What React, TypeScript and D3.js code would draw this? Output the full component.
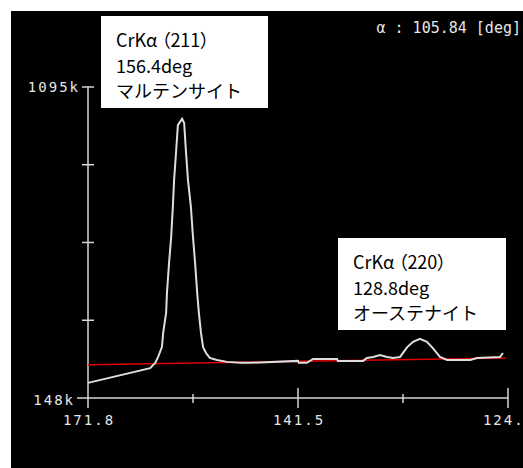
import { useRef, useEffect } from 'react';
import * as d3 from 'd3';

// detector channel (0..100) vs intensity in k counts
const channel = [
  0, 14.8, 16.0, 16.7, 17.6, 17.9, 18.6, 18.8, 19.3, 19.8, 20.2, 20.5, 21.0, 21.4,
  22.4, 22.9, 23.3, 23.8, 24.5, 25.0, 25.5, 26.0, 26.4, 26.9, 27.4, 28.1, 29.0,
  30.7, 33.1, 36.2, 38.6, 50.0, 50.2, 52.1, 53.6, 59.3, 59.5, 65.5, 66.4, 67.9,
  69.5, 71.2, 72.6, 74.3, 76.0, 77.4, 79.0, 80.7, 82.1, 83.8, 85.5, 91.0, 92.6,
  98.1, 98.8,
];
const intensity = [
  194, 239, 255, 273, 303, 346, 407, 468, 559, 638, 730, 812, 903, 979,
  998, 985, 903, 812, 730, 638, 559, 468, 407, 346, 303, 285, 270,
  264, 258, 255, 255, 261, 255, 255, 267, 267, 261, 261, 270, 273,
  279, 273, 270, 273, 303, 319, 328, 319, 300, 273, 264, 264, 270,
  273, 285,
];
const baseChannel = [0, 99.5];
const baseIntensity = [249, 270];

const xTicks = [0, 25, 50, 75, 100];
const xTickLabels = ['171.8', '', '141.5', '', '124.0'];
const yDomain = [148, 1095];
const yTickCount = 4;

const peaks = [
  { lines: ['CrKα （211）', '156.4deg', 'マルテンサイト'] },
  { lines: ['CrKα （220）', '128.8deg', 'オーステナイト'] },
];
const alphaLabel = 'α : 105.84 [deg]';

export default function App() {
  const svgRef = useRef<SVGSVGElement>(null);

  useEffect(() => {
    const svg = d3.select(svgRef.current);
    svg.selectAll('*').remove();

    const W = 523;
    const H = 468;
    const left = 88;
    const right = 508;
    const top = 87;
    const bottom = 398;
    const axisColor = '#d4d4d4';
    const numFont = 'DejaVu Sans Mono, monospace';
    const jpFont = '"Noto Sans CJK JP", sans-serif';

    svg.append('rect').attr('width', W).attr('height', H).attr('fill', '#fff');
    svg.append('rect').attr('x', 11).attr('y', 11).attr('width', W - 11).attr('height', H - 11).attr('fill', '#000');

    const x = d3.scaleLinear().domain([0, 100]).range([left, right]);
    const y = d3.scaleLinear().domain(yDomain).range([bottom, top]);

    // axes
    const g = svg.append('g').attr('stroke', axisColor).attr('stroke-width', 1.5).attr('fill', 'none');
    g.append('line').attr('x1', x(0)).attr('x2', x(0)).attr('y1', y(yDomain[1])).attr('y2', y(yDomain[0]) + 10);
    g.append('line').attr('x1', x(0) - 11).attr('x2', x(100)).attr('y1', y(yDomain[0])).attr('y2', y(yDomain[0]));

    const yTicks = d3.range(yTickCount + 1).map((i) => yDomain[0] + (i * (yDomain[1] - yDomain[0])) / yTickCount);
    yTicks.slice(1).forEach((v) => {
      g.append('line').attr('x1', x(0) - 6).attr('x2', x(0) + 6).attr('y1', y(v)).attr('y2', y(v));
    });
    xTicks.forEach((t, i) => {
      if (i === 0) return;
      const major = xTickLabels[i] !== '';
      g.append('line')
        .attr('x1', x(t)).attr('x2', x(t))
        .attr('y1', y(yDomain[0]) - (major ? 10 : 4))
        .attr('y2', y(yDomain[0]) + (major ? 10 : 5));
    });

    // tick labels
    const lab = svg.append('g').attr('fill', '#e6e6e6').attr('font-family', numFont).attr('font-size', 14).attr('letter-spacing', 2);
    lab.append('text').attr('x', 80).attr('y', y(yDomain[1]) + 5).attr('text-anchor', 'end').text('1095k');
    lab.append('text').attr('x', 75).attr('y', y(yDomain[0]) + 7).attr('text-anchor', 'end').text('148k');
    xTicks.forEach((t, i) => {
      if (!xTickLabels[i]) return;
      lab.append('text').attr('x', x(t) + 1).attr('y', 425).attr('text-anchor', 'middle').text(xTickLabels[i]);
    });

    svg.append('text')
      .attr('x', 521).attr('y', 33)
      .attr('text-anchor', 'end')
      .attr('fill', '#e6e6e6')
      .attr('font-family', numFont)
      .attr('font-size', 15)
      .text(alphaLabel);

    // baseline
    const line = d3.line<[number, number]>().x((d) => x(d[0])).y((d) => y(d[1]));
    svg.append('path')
      .datum(baseChannel.map((c, i) => [c, baseIntensity[i]] as [number, number]))
      .attr('d', line)
      .attr('stroke', '#e00000')
      .attr('stroke-width', 1.5)
      .attr('fill', 'none');

    // spectrum
    svg.append('path')
      .datum(channel.map((c, i) => [c, intensity[i]] as [number, number]))
      .attr('d', line)
      .attr('stroke', '#dedede')
      .attr('stroke-width', 2)
      .attr('fill', 'none');

    // peak annotation boxes
    const boxes = [
      { bx: 101, by: 16, bw: 167, bh: 92 },
      { bx: 338, by: 238, bw: 168, bh: 92 },
    ];
    peaks.forEach((p, i) => {
      const b = boxes[i];
      svg.append('rect').attr('x', b.bx).attr('y', b.by).attr('width', b.bw).attr('height', b.bh).attr('fill', '#fff');
      p.lines.forEach((s, j) => {
        svg.append('text')
          .attr('x', b.bx + 15)
          .attr('y', b.by + 31 + j * 25.5)
          .attr('font-family', jpFont)
          .attr('font-size', 18)
          .attr('fill', '#000')
          .style('font-feature-settings', j === 0 ? '"palt"' : 'normal')
          .text(s);
      });
    });
  }, []);

  return (
    <svg
      ref={svgRef}
      width={523}
      height={468}
      style={{ position: 'absolute', left: 0, top: 0 }}
    />
  );
}
